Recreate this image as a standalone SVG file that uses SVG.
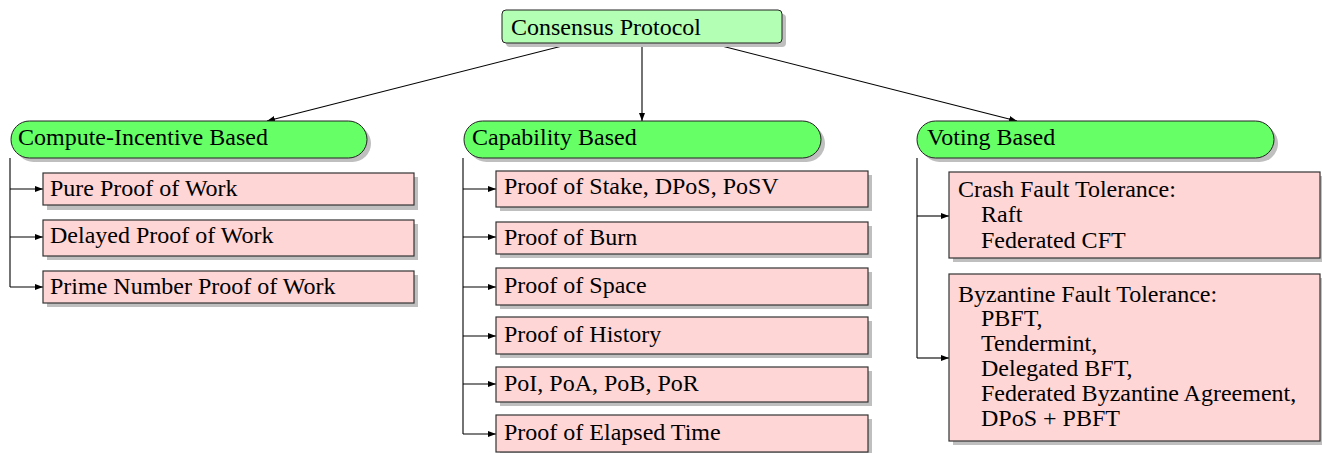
<svg xmlns="http://www.w3.org/2000/svg" width="1322" height="453" viewBox="0 0 1322 453" font-family="'Liberation Serif', 'Times New Roman', Tinos, 'DejaVu Serif', serif">
<defs>
<marker id="ah" viewBox="0 0 8 6" refX="8" refY="3" markerWidth="8" markerHeight="6" markerUnits="userSpaceOnUse" orient="auto">
<path d="M0,0 L8,3 L0,6 z" fill="#000"/>
</marker>
<style>
text{font-family:'Liberation Serif','Times New Roman',Tinos,'DejaVu Serif',serif;font-size:24px;fill:#000}
.sh{fill:#bfbfbf}
.root{fill:#b3ffb3;stroke:#222;stroke-width:1}
.cat{fill:#66ff66;stroke:#222;stroke-width:1}
.leaf{fill:#ffd6d6;stroke:#333;stroke-width:1.2}
.con{stroke:#000;stroke-width:1.1;fill:none}
.arr{stroke:#000;stroke-width:1.1;fill:none;marker-end:url(#ah)}
</style>
</defs>
<rect width="1322" height="453" fill="#fff"/>

<g id="connectors">
<path class="arr" d="M574,43 L267,121"/>
<path class="arr" d="M642,43 L642,121"/>
<path class="arr" d="M710,43 L1017,121"/>
<path class="con" d="M10,158 V287"/>
<path class="arr" d="M10,189 H43"/>
<path class="arr" d="M10,237 H43"/>
<path class="arr" d="M10,287 H43"/>
<path class="con" d="M463,158 V434"/>
<path class="arr" d="M463,189 H496"/>
<path class="arr" d="M463,237 H496"/>
<path class="arr" d="M463,287 H496"/>
<path class="arr" d="M463,336 H496"/>
<path class="arr" d="M463,384 H496"/>
<path class="arr" d="M463,434 H496"/>
<path class="con" d="M917,158 V358"/>
<path class="arr" d="M917,216 H949"/>
<path class="arr" d="M917,358 H949"/>
</g>

<g id="root">
<rect class="sh" x="506" y="14" width="280" height="33" rx="4"/>
<rect class="root" x="502" y="10" width="280" height="33" rx="4"/>
<text x="511" y="35">Consensus Protocol</text>
</g>

<g id="compute">
<rect class="sh" x="15" y="125" width="356" height="37" rx="18.5"/>
<rect class="cat" x="11" y="121" width="356" height="37" rx="18.5"/>
<text x="18" y="145">Compute-Incentive Based</text>
</g>
<g id="capability">
<rect class="sh" x="468" y="125" width="357" height="37" rx="18.5"/>
<rect class="cat" x="464" y="121" width="357" height="37" rx="18.5"/>
<text x="472" y="145">Capability Based</text>
</g>
<g id="voting">
<rect class="sh" x="921" y="125" width="357" height="37" rx="18.5"/>
<rect class="cat" x="917" y="121" width="357" height="37" rx="18.5"/>
<text x="927" y="145">Voting Based</text>
</g>

<g id="pow">
<rect class="sh" x="47" y="177" width="371" height="33"/>
<rect class="leaf" x="43" y="173" width="371" height="32"/>
<text x="50" y="196">Pure Proof of Work</text>
</g>
<g id="dpow">
<rect class="sh" x="47" y="224" width="371" height="36"/>
<rect class="leaf" x="43" y="220" width="371" height="36"/>
<text x="50" y="243">Delayed Proof of Work</text>
</g>
<g id="ppow">
<rect class="sh" x="47" y="275" width="371" height="32"/>
<rect class="leaf" x="43" y="271" width="371" height="32"/>
<text x="50" y="294">Prime Number Proof of Work</text>
</g>

<g id="pos">
<rect class="sh" x="500" y="175" width="372" height="36"/>
<rect class="leaf" x="496" y="171" width="372" height="36"/>
<text x="504" y="194">Proof of Stake, DPoS, PoSV</text>
</g>
<g id="pob">
<rect class="sh" x="500" y="226" width="372" height="32"/>
<rect class="leaf" x="496" y="222" width="372" height="32"/>
<text x="504" y="245">Proof of Burn</text>
</g>
<g id="pospace">
<rect class="sh" x="500" y="272" width="372" height="37"/>
<rect class="leaf" x="496" y="268" width="372" height="37"/>
<text x="504" y="293">Proof of Space</text>
</g>
<g id="poh">
<rect class="sh" x="500" y="321" width="372" height="37"/>
<rect class="leaf" x="496" y="317" width="372" height="37"/>
<text x="504" y="342">Proof of History</text>
</g>
<g id="poi">
<rect class="sh" x="500" y="371" width="372" height="35"/>
<rect class="leaf" x="496" y="367" width="372" height="35"/>
<text x="504" y="391">PoI, PoA, PoB, PoR</text>
</g>
<g id="poet">
<rect class="sh" x="500" y="419" width="372" height="37"/>
<rect class="leaf" x="496" y="415" width="372" height="37"/>
<text x="504" y="440">Proof of Elapsed Time</text>
</g>

<g id="cft">
<rect class="sh" x="953" y="176" width="371" height="86"/>
<rect class="leaf" x="949" y="172" width="371" height="86"/>
<text x="958" y="197">Crash Fault Tolerance:</text>
<text x="981" y="222">Raft</text>
<text x="981" y="248">Federated CFT</text>
</g>
<g id="bft">
<rect class="sh" x="953" y="278" width="371" height="167"/>
<rect class="leaf" x="949" y="274" width="371" height="167"/>
<text x="958" y="302">Byzantine Fault Tolerance:</text>
<text x="981" y="326">PBFT,</text>
<text x="981" y="351">Tendermint,</text>
<text x="981" y="376">Delegated BFT,</text>
<text x="981" y="401">Federated Byzantine Agreement,</text>
<text x="981" y="426">DPoS + PBFT</text>
</g>
</svg>
